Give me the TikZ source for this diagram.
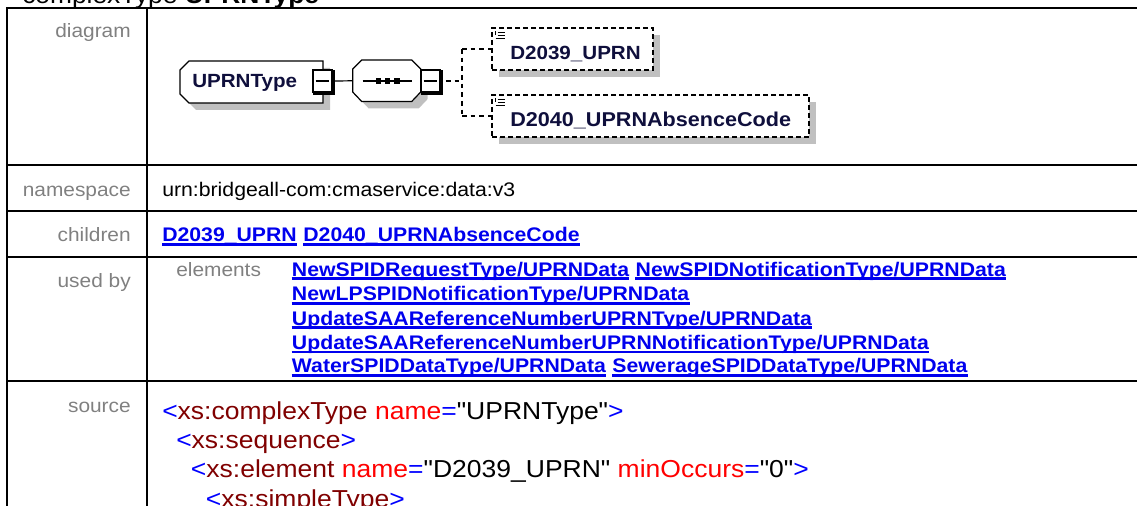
\documentclass[tikz,border=0pt]{standalone}
\usepackage{fontspec}
\setmainfont[FakeStretch=1.08]{Liberation Sans}
\newfontfamily\srcfont[FakeStretch=1.08]{Liberation Sans}
\usetikzlibrary{calc,shadows}
\definecolor{lblgray}{RGB}{128,128,128}
\definecolor{linkblue}{RGB}{0,0,238}
\definecolor{navyname}{RGB}{15,15,60}
\definecolor{shadowgray}{RGB}{192,192,192}
\definecolor{tagred}{RGB}{128,0,0}
\definecolor{attrred}{RGB}{255,0,0}
\definecolor{punctblue}{RGB}{0,0,255}
\begin{document}
\begin{tikzpicture}[x=0.75pt,y=-0.75pt,
  tbl/.style={line width=1.5pt,black},
  lbl/.style={anchor=base east,inner sep=0pt,text=lblgray,font=\fontsize{14.5pt}{17pt}\selectfont},
  txt/.style={anchor=base west,inner sep=0pt,text=black,font=\fontsize{14.75pt}{17pt}\selectfont},
  lnk/.style={anchor=base west,inner sep=0pt,text=linkblue,font=\fontsize{14.75pt}{17pt}\selectfont\bfseries},
  srctxt/.style={anchor=base west,inner sep=0pt,font=\srcfont\fontsize{18.4pt}{22pt}\selectfont},
  captxt/.style={anchor=base west,inner sep=0pt,font=\fontsize{18.3pt}{22pt}\selectfont},
  dname/.style={anchor=base west,inner sep=0pt,text=navyname,font=\fontsize{14.3pt}{17pt}\selectfont\bfseries},
  minusbox/.style={draw,fill=white,line width=0.8pt,minimum width=14.25pt,minimum height=16.5pt,inner sep=0pt},
  childbox/.style={draw,fill=white,line width=0.9pt,dash pattern=on 3.5pt off 2.5pt,inner sep=0pt,
     drop shadow={shadow xshift=5.25pt,shadow yshift=-5.25pt,fill=shadowgray,opacity=1}},
  busline/.style={line width=0.9pt,dash pattern=on 3.5pt off 3pt},
  conn/.style={line width=0.9pt}]
\useasboundingbox (0,0) rectangle (1137,506);

% caption (cut at the top)
\node[captxt] (caption) at (22,3.5) {complexType \textbf{UPRNType}};

% table lines
\draw[tbl] (1137,8) -- (7,8) -- (7,506);
\draw[tbl] (147,8) -- (147,506);
\draw[tbl] (7,165) -- (1137,165);
\draw[tbl] (7,211) -- (1137,211);
\draw[tbl] (7,257) -- (1137,257);
\draw[tbl] (7,381) -- (1137,381);

% row labels
\node[lbl] (Ldiag) at (131,37.5) {diagram};
\node[lbl] (Lns) at (131,196) {namespace};
\node[lbl] (Lch) at (131,241.7) {children};
\node[lbl] (Lub) at (131,287) {used by};
\node[lbl] (Lsrc) at (131,412) {source};

% namespace
\node[txt] (ns) at (162,196) {urn:bridgeall-com:cmaservice:data:v3};

% children
\node[lnk] (c1) at (162,241.7) {D2039\_UPRN};
\node[lnk] (c2) at ([xshift=4.5pt]c1.base east) {D2040\_UPRNAbsenceCode};

% used by
\node[lbl,anchor=base west] (Lel) at (176,276) {elements};
\node[lnk] (u1) at (291.7,276) {NewSPIDRequestType/UPRNData};
\node[lnk] (u2) at ([xshift=4.5pt]u1.base east) {NewSPIDNotificationType/UPRNData};
\node[lnk] (u3) at (291.7,300.7) {NewLPSPIDNotificationType/UPRNData};
\node[lnk] (u4) at (291.7,325) {UpdateSAAReferenceNumberUPRNType/UPRNData};
\node[lnk] (u5) at (291.7,349.3) {UpdateSAAReferenceNumberUPRNNotificationType/UPRNData};
\node[lnk] (u6) at (291.7,372.7) {WaterSPIDDataType/UPRNData};
\node[lnk] (u7) at ([xshift=4.5pt]u6.base east) {SewerageSPIDDataType/UPRNData};
\foreach \n in {c1,c2,u1,u2,u3,u4,u5,u6,u7}
  \draw[linkblue,line width=1.8pt] ([yshift=-2pt]\n.base west) -- ([yshift=-2pt]\n.base east);

% source
\node[srctxt] (s1) at (162,419) {\textcolor{punctblue}{<}\textcolor{tagred}{xs:complexType} \textcolor{attrred}{name}\textcolor{punctblue}{=}"UPRNType"\textcolor{punctblue}{>}};
\node[srctxt] (s2) at (176,448) {\textcolor{punctblue}{<}\textcolor{tagred}{xs:sequence}\textcolor{punctblue}{>}};
\node[srctxt] (s3) at (190.7,477.5) {\textcolor{punctblue}{<}\textcolor{tagred}{xs:element} \textcolor{attrred}{name}\textcolor{punctblue}{=}"D2039\_UPRN" \textcolor{attrred}{minOccurs}\textcolor{punctblue}{=}"0"\textcolor{punctblue}{>}};
\node[srctxt] (s4) at (205.7,507) {\textcolor{punctblue}{<}\textcolor{tagred}{xs:simpleType}\textcolor{punctblue}{>}};

% ---------- diagram ----------
% shadows
\fill[shadowgray] (187,77) -- (196,68) -- (330,68) -- (330,110) -- (196,110) -- (187,101) -- cycle;
\fill[shadowgray] (359.7,76) -- (368.7,67) -- (418.7,67) -- (427.7,76) -- (427.7,99) -- (418.7,108.5) -- (368.7,108.5) -- (359.7,99) -- cycle;
% complex type box
\draw[conn,fill=white] (180,70) -- (189,61) -- (323,61) -- (323,103) -- (189,103) -- (180,94) -- cycle;
\node[inner sep=0pt,minimum width=107pt,minimum height=31.5pt] (uprn) at (251.5,82) {};
\node[dname] (uprntext) at (192,88) {UPRNType};
% sequence octagon
\draw[conn,fill=white] (352.7,69) -- (361.7,60) -- (411.7,60) -- (420.7,69) -- (420.7,92) -- (411.7,101.5) -- (361.7,101.5) -- (352.7,92) -- cycle;
\node[inner sep=0pt,minimum width=51pt,minimum height=31.1pt] (seq) at (386.7,80.8) {};
\draw[conn] (362.7,81) -- (411.7,81);
\fill (375.8,78.3) rectangle (381.2,83.7);
\fill (385,78.3) rectangle (390.4,83.7);
\fill (394.2,78.3) rectangle (399.6,83.7);
% minus boxes
\node[minusbox] (m1) at (322.5,81) {};
\draw[line width=1.7pt] ([xshift=0.9pt,yshift=-0.6pt]m1.north east) -- ([xshift=0.9pt,yshift=-0.9pt]m1.south east) -- ([xshift=0.6pt,yshift=-0.9pt]m1.south west);
\draw[conn] ([xshift=2.3pt]m1.west) -- ([xshift=-2.3pt]m1.east);
\node[minusbox] (m2) at (430.5,81) {};
\draw[line width=1.7pt] ([xshift=0.9pt,yshift=-0.6pt]m2.north east) -- ([xshift=0.9pt,yshift=-0.9pt]m2.south east) -- ([xshift=0.6pt,yshift=-0.9pt]m2.south west);
\draw[conn] ([xshift=2.3pt]m2.west) -- ([xshift=-2.3pt]m2.east);
% connector complex type -> sequence
\draw[conn] ([xshift=1.2pt]m1.east) -- (seq.west);
% children boxes
\node[childbox,minimum width=120.75pt,minimum height=31.5pt] (ch1) at (572.5,49) {};
\node[childbox,minimum width=237.75pt,minimum height=31.5pt] (ch2) at (650.5,116) {};
\node[dname] (ch1text) at (510,60) {D2039\_UPRN};
\node[dname,font=\fontsize{15pt}{17pt}\selectfont\bfseries] (ch2text) at (510,127) {D2040\_UPRNAbsenceCode};
% list icons
\foreach \yy in {31.5,98.5} {
  \draw[line width=0.7pt] (495.5,\yy) -- (495.5,\yy+4);
  \draw[line width=0.7pt] (497.5,\yy+1) -- (505,\yy+1);
  \draw[line width=0.7pt] (497.5,\yy+4) -- (505,\yy+4);
  \draw[line width=0.7pt] (495.5,\yy+7) -- (505,\yy+7);
}
% dashed bus
\coordinate (bus) at (462,81);
\coordinate (b1) at (462,49);
\coordinate (b2) at (462,116);
\draw[busline] ([xshift=4pt]m2.east) -- (bus);
\draw[busline] (b1) -- (b2);
\draw[busline] (b1) -- (ch1.west);
\draw[busline] (b2) -- (ch2.west);
\end{tikzpicture}
\end{document}
